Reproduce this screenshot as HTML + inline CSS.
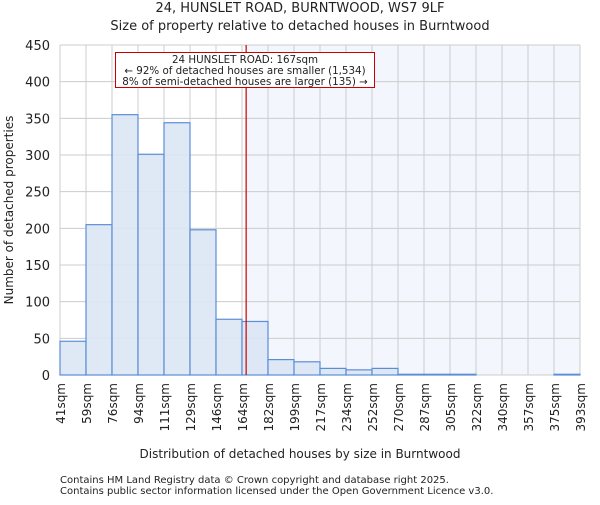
<!DOCTYPE html><html><head><meta charset="utf-8"><style>body{margin:0;background:#fff}svg text{font-family:"DejaVu Sans","Liberation Sans",sans-serif;fill:#222}</style></head><body>
<svg id="c" width="600" height="500" xmlns="http://www.w3.org/2000/svg">
<text x="300" y="12" text-anchor="middle" font-size="13">24, HUNSLET ROAD, BURNTWOOD, WS7 9LF</text>
<text x="300" y="30" text-anchor="middle" font-size="13">Size of property relative to detached houses in Burntwood</text>
<g id="plot"></g>
<text x="300" y="458" text-anchor="middle" font-size="12">Distribution of detached houses by size in Burntwood</text>
<text transform="translate(13,210) rotate(-90)" text-anchor="middle" font-size="12">Number of detached properties</text>
<text x="60" y="483" font-size="10">Contains HM Land Registry data © Crown copyright and database right 2025.</text>
<text x="60" y="494" font-size="10">Contains public sector information licensed under the Open Government Licence v3.0.</text>
</svg>
<script>
const edges=[41,59,76,94,111,129,146,164,182,199,217,234,252,270,287,305,322,340,357,375,393];
const counts=[46,205,355,301,344,198,76,73,21,18,9,7,9,1,1,1,0,0,0,1];
const yTicks=[0,50,100,150,200,250,300,350,400,450];
const marker=167;
const NS="http://www.w3.org/2000/svg",g=document.getElementById('plot');
const X0=60,X1=580,Y0=375,Y1=45,n=counts.length;
const xb=i=>X0+i*(X1-X0)/n;
const xv=v=>X0+(v-edges[0])/(edges[n]-edges[0])*(X1-X0);
const y=v=>Y0-v/450*(Y0-Y1);
function mk(t,a,p){const e=document.createElementNS(NS,t);for(const k in a)e.setAttribute(k,a[k]);(p||g).appendChild(e);return e;}
const sh=mk('rect',{x:xv(marker),y:Y1,width:X1-xv(marker),height:Y0-Y1,fill:'#f3f6fd'});


yTicks.forEach(t=>{const l=mk('line',{x1:X0,x2:X1,y1:y(t),y2:y(t),stroke:'#ccc'});


const tx=mk('text',{x:50,y:y(t)+5,'text-anchor':'end','font-size':13});tx.textContent=t;

});
for(let i=0;i<=n;i++){const l=mk('line',{x1:xb(i),x2:xb(i),y1:Y1,y2:Y0,stroke:'#ccc'});


const tx=mk('text',{transform:`translate(${xb(i)+5},383) rotate(-90)`,'text-anchor':'end','font-size':12});tx.textContent=edges[i]+'sqm';

}
counts.forEach((c,i)=>{const r=mk('rect',{x:xb(i),y:y(c),width:xb(i+1)-xb(i),height:Y0-y(c),fill:'#dce6f4','fill-opacity':0.9,stroke:'#5a8ed6','stroke-width':1.2});

});
const ml=mk('line',{x1:xv(marker),x2:xv(marker),y1:Y1,y2:Y0,stroke:'#cc0000','stroke-width':1.2});


const bx=mk('rect',{x:115.5,y:52.5,width:259,height:35,fill:'#fff',stroke:'#cc0000'});


["24 HUNSLET ROAD: 167sqm","← 92% of detached houses are smaller (1,534)","8% of semi-detached houses are larger (135) →"].forEach((s,i)=>{const t=mk('text',{x:245,y:63+i*11,'text-anchor':'middle','font-size':10.3});t.textContent=s;

});
</script></body></html>
